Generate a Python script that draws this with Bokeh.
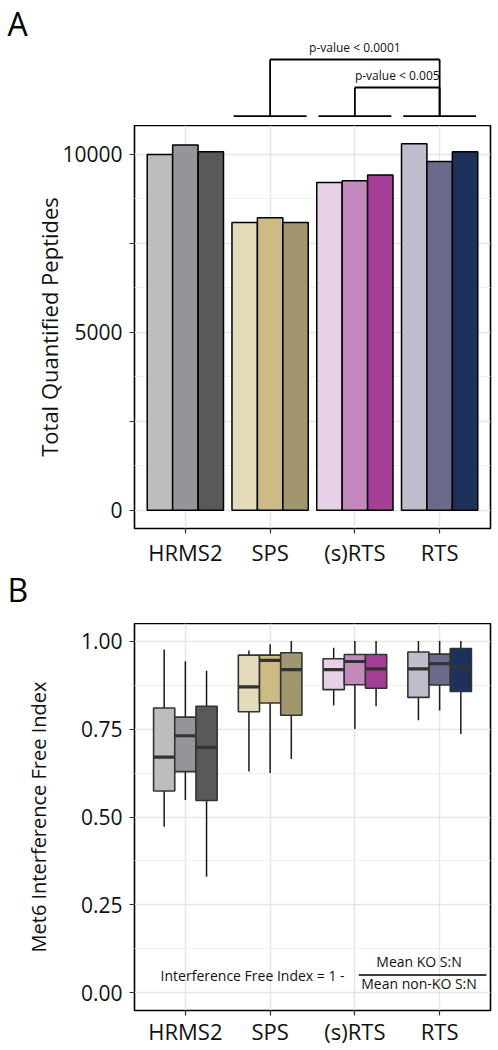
from bokeh.plotting import figure
from bokeh.models import Range1d, FactorRange, FixedTicker, ColumnDataSource
from bokeh.transform import dodge
from bokeh.layouts import column
from bokeh.embed import file_html
from bokeh.resources import INLINE
from bokeh.core.properties import value

# ---------------- data ----------------
CATS = ["HRMS2", "SPS", "(s)RTS", "RTS"]

# Panel A: total quantified peptides, three replicates per method
PEP_REP1 = [10000, 8090, 9210, 10300]
PEP_REP2 = [10270, 8220, 9265, 9800]
PEP_REP3 = [10080, 8090, 9420, 10080]
Y_TICKS_A = [0, 2500, 5000, 7500, 10000]
Y_TICK_LABELS_A = ["0", "", "5000", "", "10000"]
Y_MINOR_A = [1250, 3750, 6250, 8750]

COL_REP1 = ["#BCBDBF", "#E3DBBA", "#E6D1E6", "#BDBDCC"]
COL_REP2 = ["#949598", "#CDBA85", "#C388BC", "#6A6A8A"]
COL_REP3 = ["#58595B", "#A1966E", "#A43F96", "#1E315B"]

# significance brackets: (group 1, group 2, label)
COMPARISONS = [("SPS", "RTS", "p-value < 0.0001"),
               ("(s)RTS", "RTS", "p-value < 0.005")]
BRACKET_BASE = ["SPS", "(s)RTS", "RTS"]

# Panel B: Met6 interference free index boxplots [category][replicate]
IFI_LOW = [[0.472, 0.548, 0.330], [0.629, 0.625, 0.665],
           [0.817, 0.750, 0.815], [0.775, 0.803, 0.736]]
IFI_Q1 = [[0.574, 0.629, 0.547], [0.799, 0.824, 0.789],
          [0.862, 0.876, 0.866], [0.840, 0.875, 0.857]]
IFI_MED = [[0.670, 0.731, 0.698], [0.870, 0.945, 0.919],
           [0.919, 0.942, 0.921], [0.921, 0.936, 0.927]]
IFI_Q3 = [[0.810, 0.784, 0.815], [0.960, 0.960, 0.967],
          [0.950, 0.962, 0.962], [0.969, 0.963, 0.979]]
IFI_HIGH = [[0.976, 0.943, 0.916], [0.973, 0.991, 1.000],
            [0.981, 1.000, 1.000], [1.000, 1.000, 1.000]]
Y_TICKS_B = [0.0, 0.25, 0.5, 0.75, 1.0]
Y_TICK_LABELS_B = ["0.00", "0.25", "0.50", "0.75", "1.00"]
Y_MINOR_B = [0.125, 0.375, 0.625, 0.875]

# ---------------- style ----------------
FONT = "Open Sans"
W = 498
TXT = "#111111"
GRID_MAJ = "#E6E6E6"
GRID_MIN = "#EFEFEF"
PAD = 0.1  # absolute padding of the factor range beyond the outer categories
LEFT, RIGHT = 134, 8


def style_axes(p, xlab_standoff, ylab_standoff, ylabel, ylab_size):
    p.outline_line_color = "black"
    p.outline_line_width = 1.6
    p.outline_line_alpha = 1.0
    p.background_fill_color = "white"
    p.border_fill_color = "white"
    for ax in (p.xaxis[0], p.yaxis[0]):
        ax.axis_line_color = None
        ax.major_tick_line_color = "#333333"
        ax.major_tick_line_width = 1.2
        ax.major_tick_out = 5
        ax.major_tick_in = 0
        ax.minor_tick_out = 0
        ax.minor_tick_in = 0
        ax.major_label_text_font = FONT
        ax.major_label_text_color = TXT
    p.xaxis.major_label_text_font_size = "22px"
    p.yaxis.major_label_text_font_size = "21px"
    p.xaxis.major_label_standoff = xlab_standoff
    p.yaxis.major_label_standoff = 7
    p.yaxis.axis_label = ylabel
    p.yaxis.axis_label_text_font = FONT
    p.yaxis.axis_label_text_font_size = ylab_size
    p.yaxis.axis_label_text_font_style = "normal"
    p.yaxis.axis_label_text_color = TXT
    p.yaxis.axis_label_standoff = ylab_standoff
    p.xgrid.grid_line_color = GRID_MAJ
    p.xgrid.grid_line_width = 1.5
    p.ygrid.grid_line_color = GRID_MAJ
    p.ygrid.grid_line_width = 1.5
    p.ygrid.minor_grid_line_color = GRID_MIN
    p.ygrid.minor_grid_line_width = 1.0


# ---------------- panel A: brackets strip ----------------
A_TOP_H = 125
pxu = (W - LEFT - RIGHT) / (len(CATS) + 2 * PAD)
xs0 = -PAD - LEFT / pxu
xs1 = len(CATS) + PAD + RIGHT / pxu

top = figure(width=W, height=A_TOP_H, x_range=Range1d(xs0, xs1),
             y_range=Range1d(A_TOP_H, 0), x_axis_type=None, y_axis_type=None,
             toolbar_location=None, output_backend="svg", min_border=0,
             outline_line_color=None, frame_align=False)
top.grid.visible = False


def cx(c):
    return CATS.index(c) + 0.5


BASE_Y = 115.7
LEVEL_Y = [59, 87]
bx0 = [cx(c) - 0.43 for c in BRACKET_BASE]
bx1 = [cx(c) + 0.43 for c in BRACKET_BASE]
top.segment(x0=bx0, x1=bx1, y0=[BASE_Y] * 3, y1=[BASE_Y] * 3,
            line_color="black", line_width=1.8)
sx0, sx1, sy0, sy1, tx, ty, tt = [], [], [], [], [], [], []
for (g1, g2, lab), ly in zip(COMPARISONS, LEVEL_Y):
    sx0 += [cx(g1), cx(g1), cx(g2)]
    sx1 += [cx(g1), cx(g2), cx(g2)]
    sy0 += [BASE_Y, ly, ly]
    sy1 += [ly, ly, BASE_Y]
    tx.append((cx(g1) + cx(g2)) / 2)
    ty.append(ly - 12)
    tt.append(lab)
top.segment(x0=sx0, x1=sx1, y0=sy0, y1=sy1, line_color="black", line_width=1.8)
top.text(x=tx, y=ty, text=tt, text_font=value(FONT), text_font_size="12px",
         text_align="center", text_baseline="alphabetic", text_color=TXT)
top.text(x=[xs0 + 7 / pxu], y=[23], text=["A"], text_font=value(FONT),
         text_font_size="32px", text_align="left", text_baseline="alphabetic",
         text_color="black")

# ---------------- panel A: bars ----------------
A_H = 444
vmax = max(PEP_REP1 + PEP_REP2 + PEP_REP3)
xr_a = FactorRange(*CATS, range_padding=PAD, range_padding_units="absolute")
pa = figure(width=W, height=A_H, x_range=xr_a,
            y_range=Range1d(-0.05 * vmax, 1.05 * vmax),
            toolbar_location=None, output_backend="svg",
            min_border_left=LEFT, min_border_right=RIGHT,
            min_border_top=0, min_border_bottom=38)
src_a = ColumnDataSource(dict(cat=CATS, v1=PEP_REP1, v2=PEP_REP2, v3=PEP_REP3,
                              c1=COL_REP1, c2=COL_REP2, c3=COL_REP3))
for off, v, c in [(-0.3, "v1", "c1"), (0.0, "v2", "c2"), (0.3, "v3", "c3")]:
    pa.vbar(x=dodge("cat", off, range=xr_a), top=v, bottom=0, width=0.3,
            fill_color=c, line_color="black", line_width=1.5, source=src_a)
pa.yaxis.ticker = FixedTicker(ticks=Y_TICKS_A, minor_ticks=Y_MINOR_A)
pa.yaxis.major_label_overrides = {t: l for t, l in zip(Y_TICKS_A, Y_TICK_LABELS_A)}
style_axes(pa, 3, -5, "Total Quantified Peptides", "22px")

# ---------------- panel B label strip ----------------
B_TOP_H = 54
btop = figure(width=W, height=B_TOP_H, x_range=Range1d(0, W),
              y_range=Range1d(B_TOP_H, 0), x_axis_type=None, y_axis_type=None,
              toolbar_location=None, output_backend="svg", min_border=0,
              outline_line_color=None, frame_align=False)
btop.grid.visible = False
btop.text(x=[7], y=[20], text=["B"], text_font=value(FONT),
          text_font_size="32px", text_align="left", text_baseline="alphabetic",
          text_color="black")

# ---------------- panel B: boxplots ----------------
B_H = 427
xr_b = FactorRange(*CATS, range_padding=PAD, range_padding_units="absolute")
pb = figure(width=W, height=B_H, x_range=xr_b, y_range=Range1d(-0.05, 1.05),
            toolbar_location=None, output_backend="svg",
            min_border_left=LEFT, min_border_right=RIGHT,
            min_border_top=0, min_border_bottom=40)
BW = 0.25
cols = [COL_REP1, COL_REP2, COL_REP3]
for r, off in enumerate([-0.25, 0.0, 0.25]):
    d = dict(cat=CATS,
             lo=[IFI_LOW[i][r] for i in range(len(CATS))],
             q1=[IFI_Q1[i][r] for i in range(len(CATS))],
             med=[IFI_MED[i][r] for i in range(len(CATS))],
             q3=[IFI_Q3[i][r] for i in range(len(CATS))],
             hi=[IFI_HIGH[i][r] for i in range(len(CATS))],
             col=cols[r])
    s = ColumnDataSource(d)
    xc = dodge("cat", off, range=xr_b)
    pb.segment(x0=xc, x1=xc, y0="q3", y1="hi", line_color="#1a1a1a",
               line_width=1.5, source=s)
    pb.segment(x0=xc, x1=xc, y0="lo", y1="q1", line_color="#1a1a1a",
               line_width=1.5, source=s)
    pb.vbar(x=xc, top="q3", bottom="q1", width=BW, fill_color="col",
            line_color="#333333", line_width=1.6, source=s)
    pb.segment(x0=dodge("cat", off - BW / 2, range=xr_b),
               x1=dodge("cat", off + BW / 2, range=xr_b),
               y0="med", y1="med", line_color="#333333", line_width=3.2,
               source=s)
pb.yaxis.ticker = FixedTicker(ticks=Y_TICKS_B, minor_ticks=Y_MINOR_B)
pb.yaxis.major_label_overrides = {t: l for t, l in zip(Y_TICKS_B, Y_TICK_LABELS_B)}
style_axes(pb, 0, 26, "Met6 Interference Free Index", "20px")

# formula annotation
pb.text(x=[0.208], y=[0.05], text=["Interference Free Index = 1 - "],
        text_font=value(FONT), text_font_size="14px", text_align="left",
        text_baseline="middle", text_color=TXT)
pb.segment(x0=[2.545], x1=[4.052], y0=[0.051], y1=[0.051],
           line_color="black", line_width=1.5)
pb.text(x=[3.257, 3.257], y=[0.089, 0.026], text=["Mean KO S:N", "Mean non-KO S:N"],
        text_font=value(FONT), text_font_size="14px", text_align="center",
        text_baseline="middle", text_color=TXT)

layout = column(top, pa, btop, pb, spacing=0)
open("out.html", "w").write(file_html(layout, INLINE))
